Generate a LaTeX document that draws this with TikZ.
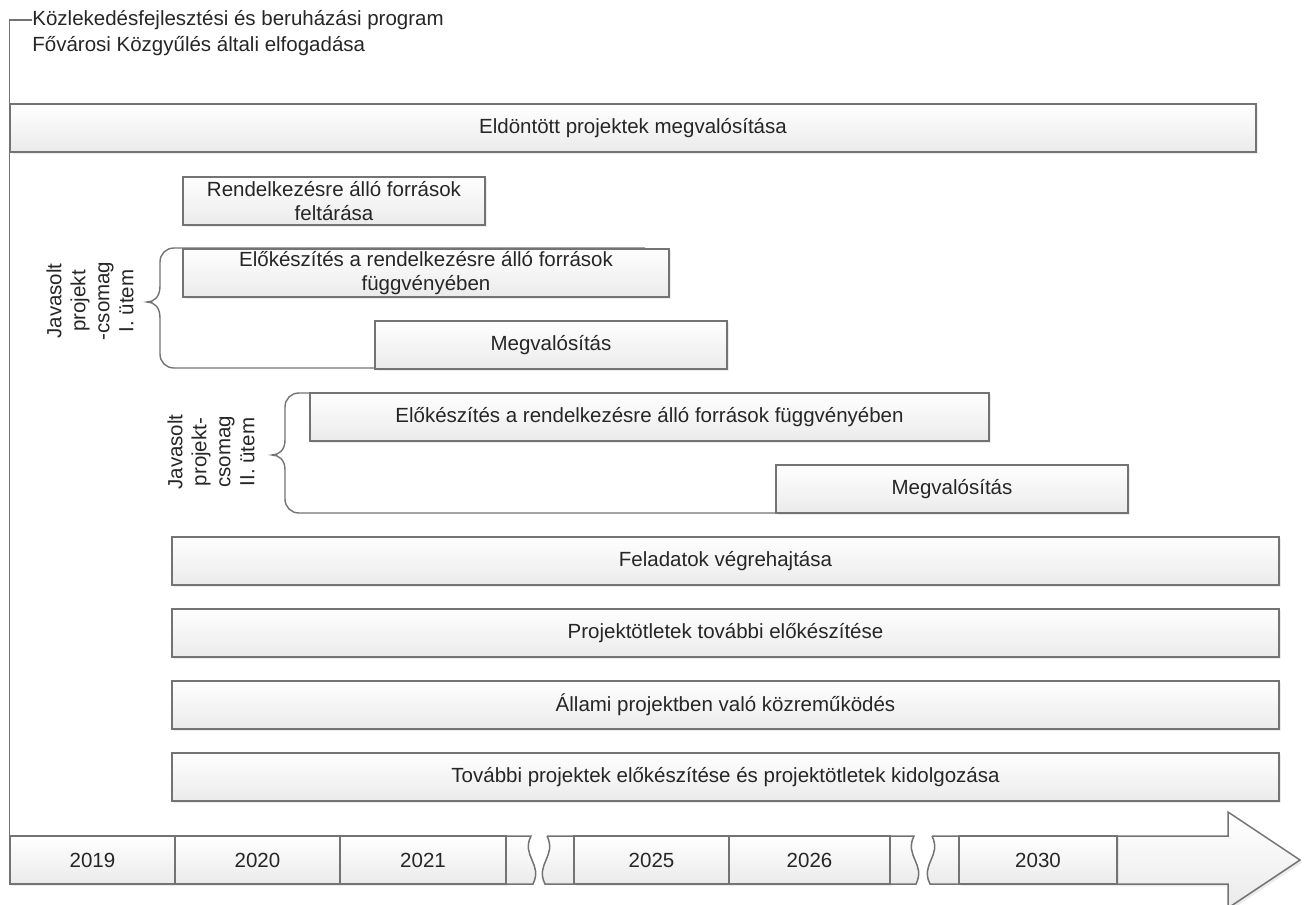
\documentclass[tikz,border=0pt]{standalone}
\usepackage{fontspec}
\setmainfont{Liberation Sans}
\usetikzlibrary{shadows}

\begin{document}
\begin{tikzpicture}[x=0.5pt,y=-0.5pt,
		font=\fontsize{10.25}{12}\selectfont, text=black!85,
		keret/.style={draw=black!55, line width=0.75pt, top color=white, bottom color=gray!16},
		sav/.style={keret, minimum height=24pt, inner sep=0pt, align=center,
			drop shadow={shadow xshift=1.2pt, shadow yshift=-1.2pt, opacity=0.15}},
		kapocs/.style={draw=black!55, line width=0.7pt},
		felirat/.style={rotate=90, align=center, inner sep=0pt}]
	\useasboundingbox (0,0) rectangle (1305,904);
	
	% kapcsos zarojelek
	\draw[kapocs] (645,248) -- (174,248) .. controls (166,248) and (160,254) .. (160,262) -- (160,286)
		.. controls (160,297) and (154,302) .. (147,302) .. controls (154,302) and (160,307) .. (160,318)
		-- (160,354) .. controls (160,362) and (166,368) .. (174,368) -- (380,368);
	\draw[kapocs] (320,393) -- (299,393) .. controls (291,393) and (285,399) .. (285,407) -- (285,440)
		.. controls (285,450) and (279,455) .. (272,455) .. controls (279,455) and (285,460) .. (285,470)
		-- (285,499) .. controls (285,507) and (291,513) .. (299,513) -- (780,513);
	
	\node[felirat] (utem1) at (90,301) {Javasolt\\projekt\\-csomag\\I. ütem};
	\node[felirat] (utem2) at (211,452) {Javasolt\\projekt-\\csomag\\II. ütem};
	
	% feladatsavok
	\node[sav, minimum width=623pt] (eldont) at (633,128) {Eldöntött projektek megvalósítása};
	\node[sav, minimum width=151pt] (forras) at (334,201) {Rendelkezésre álló források\\feltárása};
	\node[sav, minimum width=243pt] (elo1) at (426,273) {Előkészítés a rendelkezésre álló források\\függvényében};
	\node[sav, minimum width=176pt] (megv1) at (551,345) {Megvalósítás};
	\node[sav, minimum width=339.5pt] (elo2) at (649.5,417) {Előkészítés a rendelkezésre álló források függvényében};
	\node[sav, minimum width=176pt] (megv2) at (952,489) {Megvalósítás};
	\node[sav, minimum width=553.5pt] (feladat) at (725.5,561) {Feladatok végrehajtása};
	\node[sav, minimum width=553.5pt] (otlet) at (725.5,633) {Projektötletek további előkészítése};
	\node[sav, minimum width=553.5pt] (allami) at (725.5,705) {Állami projektben való közreműködés};
	\node[sav, minimum width=553.5pt] (tovabbi) at (725.5,777) {További projektek előkészítése és projektötletek kidolgozása};
	
	% idovonal
	\draw[keret, drop shadow={shadow xshift=1.2pt, shadow yshift=-1.2pt, opacity=0.15}]
		(1117,836) -- (1228,836) -- (1228,812) -- (1300,860) -- (1228,908) -- (1228,884) -- (1117,884) -- cycle;
	\node[sav, minimum width=82.5pt] (ev2019) at (92.5,860) {2019};
	\node[sav, minimum width=82.5pt] (ev2020) at (257.5,860) {2020};
	\node[sav, minimum width=83pt] (ev2021) at (423,860) {2021};
	\draw[keret] (506,836) -- (531,836) .. controls (521,856) and (543,864) .. (533,884) -- (506,884) -- cycle;
	\draw[keret] (547,836) -- (574,836) -- (574,884) -- (545,884) .. controls (535,864) and (557,856) .. (547,836);
	\node[sav, minimum width=77.5pt] (ev2025) at (651.5,860) {2025};
	\node[sav, minimum width=80.5pt] (ev2026) at (809.5,860) {2026};
	\draw[keret] (890,836) -- (914,836) .. controls (904,856) and (926,864) .. (916,884) -- (890,884) -- cycle;
	\draw[keret] (932,836) -- (959,836) -- (959,884) -- (930,884) .. controls (920,864) and (942,856) .. (932,836);
	\node[sav, minimum width=79pt] (ev2030) at (1038,860) {2030};
	
	% program elfogadasa
	\node[anchor=west, inner sep=0pt] (prog) at (32,20) {Közlekedésfejlesztési és beruházási program};
	\node[anchor=west, inner sep=0pt] (elfog) at (32,46) {Fővárosi Közgyűlés általi elfogadása};
	\draw[black!55, line width=0.7pt] (prog.west) -| (ev2019.north west);
\end{tikzpicture}
\end{document}
